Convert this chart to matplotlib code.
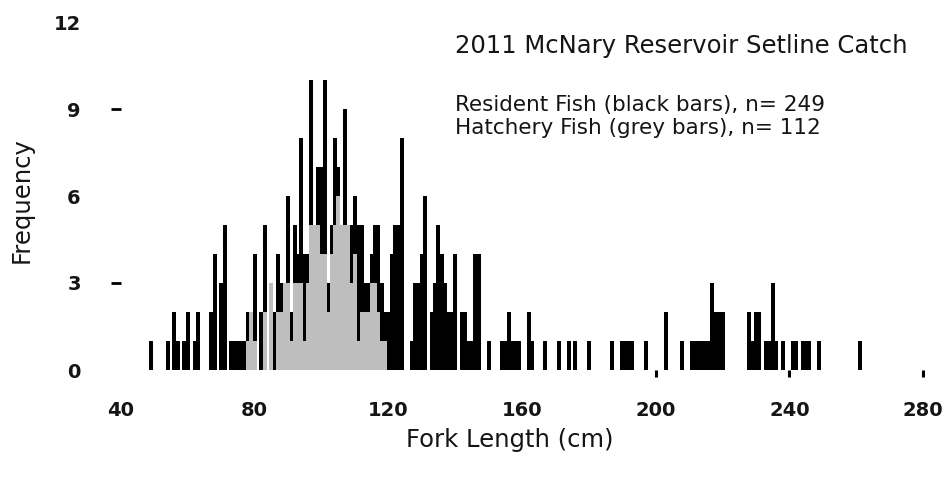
import matplotlib
matplotlib.use("Agg")
import matplotlib.pyplot as plt
import numpy as np

# Fork length bins (cm) and counts
lengths = [49, 54, 56, 57, 59, 60, 62, 63, 67, 68, 70, 71, 73, 74, 75, 76, 77,
           78, 79, 80, 82, 83, 85, 86, 87, 88, 89, 90, 91, 92, 93, 94, 95, 96,
           97, 98, 99, 100, 101, 102, 103, 104, 105, 106, 107, 108, 109, 110,
           111, 112, 113, 114, 115, 116, 117, 118, 119, 120, 121, 122, 123, 124,
           127, 128, 129, 130, 131, 133, 134, 135, 136, 137, 138, 139, 140, 142,
           143, 144, 145, 146, 147, 150, 154, 155, 156, 157, 158, 159, 162, 163,
           167, 171, 174, 176, 180, 187, 190, 191, 192, 193, 197, 203, 208, 211,
           212, 213, 214, 215, 216, 217, 218, 219, 220, 228, 229, 230, 231, 233,
           234, 235, 236, 238, 241, 242, 244, 245, 246, 249, 261]

totals = [1, 1, 2, 1, 1, 2, 1, 2, 2, 4, 3, 5, 1, 1, 1, 1, 1,
          2, 2, 4, 2, 5, 3, 2, 4, 3, 3, 6, 2, 5, 4, 8, 4, 4,
          10, 5, 7, 7, 10, 3, 5, 8, 7, 5, 9, 5, 5, 6,
          5, 5, 3, 3, 4, 5, 5, 3, 2, 2, 4, 5, 5, 8,
          1, 3, 3, 4, 6, 2, 3, 5, 4, 3, 2, 2, 4, 2,
          2, 1, 1, 4, 4, 1, 1, 1, 2, 1, 1, 1, 2, 1,
          1, 1, 1, 1, 1, 1, 1, 1, 1, 1, 1, 2, 1, 1,
          1, 1, 1, 1, 1, 3, 2, 2, 2, 2, 1, 2, 2, 1,
          1, 3, 1, 1, 1, 1, 1, 1, 1, 1, 1]

hatch_map = {78: 1, 79: 2, 80: 1, 83: 2, 85: 3, 87: 2, 88: 2, 89: 3, 90: 3,
             91: 1, 92: 3, 93: 3, 94: 3, 95: 1, 96: 3, 97: 5, 98: 5, 99: 5,
             100: 4, 101: 4, 102: 2, 103: 4, 104: 5, 105: 6, 106: 5, 107: 5,
             108: 5, 109: 3, 110: 4, 111: 1, 112: 2, 113: 2, 114: 2, 115: 3,
             116: 3, 117: 2, 118: 1, 119: 1}

hatchery = [hatch_map.get(L, 0) for L in lengths]
resident = [t - h for t, h in zip(totals, hatchery)]

xticks = [40, 80, 120, 160, 200, 240, 280]
yticks = [0, 3, 6, 9, 12]

W, H = 949, 482
fig = plt.figure(figsize=(W / 100, H / 100), dpi=100)
ax = fig.add_axes([121 / W, 112 / H, 802 / W, 348 / H])

bw = 1.2
ax.bar(lengths, resident, bottom=hatchery, width=bw, color="black", linewidth=0)
ax.bar(lengths, hatchery, width=bw, color="#bebebe", linewidth=0)

ax.set_xlim(40, 280)
ax.set_ylim(0, 12)
for s in ax.spines.values():
    s.set_visible(False)

tc = "#151515"
ax.xaxis.remove_overlapping_locs = False
ax.yaxis.remove_overlapping_locs = False
ax.set_xticks(xticks)
ax.set_xticklabels([str(v) for v in xticks], fontsize=14, fontweight="bold",
                   color=tc, family="DejaVu Sans")
ax.set_yticks(yticks)
ax.set_yticklabels([str(v) for v in yticks], fontsize=14, fontweight="bold",
                   color=tc, family="DejaVu Sans")
ax.tick_params(axis="x", which="major", length=0, pad=22)
ax.tick_params(axis="y", which="major", length=0, pad=29)
ax.set_xticks([200, 240, 280], minor=True)
ax.set_yticks([3, 9], minor=True)
ax.tick_params(axis="x", which="minor", length=5, width=2.2, color="black")
ax.tick_params(axis="y", which="minor", length=7, width=2, color="black")

fig.text(510 / W, 1 - 440 / H, "Fork Length (cm)", ha="center", va="center",
         fontsize=17.5, color=tc, family="DejaVu Sans")
fig.text(22 / W, 1 - 200 / H, "Frequency", ha="center", va="center",
         rotation=90, fontsize=17.5, color=tc, family="DejaVu Sans")

fig.text(455 / W, 1 - 46 / H, "2011 McNary Reservoir Setline Catch",
         ha="left", va="center", fontsize=17.5, color=tc, family="DejaVu Sans")
fig.text(455 / W, 1 - 105 / H, "Resident Fish (black bars), n= 249",
         ha="left", va="center", fontsize=15.5, color=tc, family="DejaVu Sans")
fig.text(455 / W, 1 - 128 / H, "Hatchery Fish (grey bars), n= 112",
         ha="left", va="center", fontsize=15.5, color=tc, family="DejaVu Sans")

fig.savefig("out.png", dpi=100, facecolor="white")
